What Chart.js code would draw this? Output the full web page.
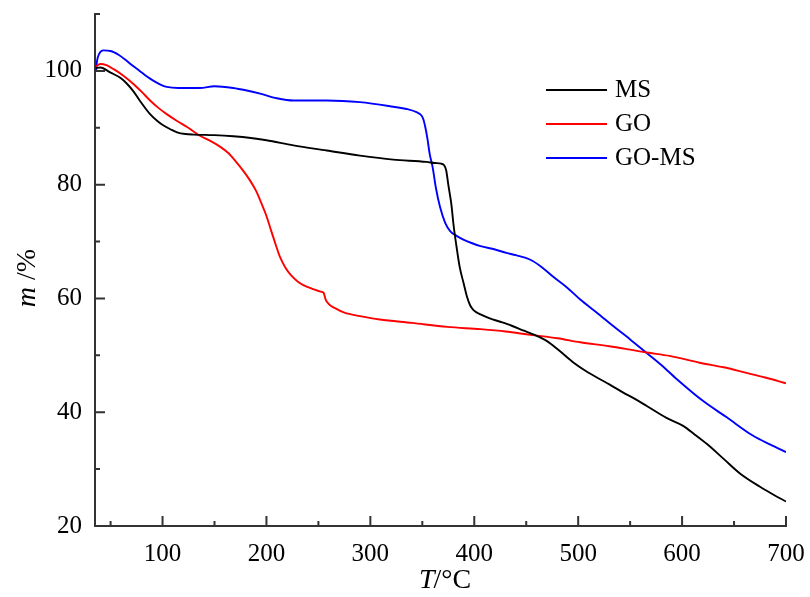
<!DOCTYPE html>
<html>
<head>
<meta charset="utf-8">
<script src="https://cdn.jsdelivr.net/npm/chart.js@4.4.0/dist/chart.umd.min.js"></script>
<style>
  body { margin: 0; background: #fff; }
  #wrap { width: 810px; height: 597px; }
</style>
</head>
<body>
<div id="wrap"><canvas id="c1" width="810" height="597"></canvas></div>
<script>
// TGA curves
const msT = [36, 40, 50, 60, 66, 72, 78, 88, 95, 101, 108, 114, 122, 130, 150, 168, 185, 200, 226, 258, 290, 322, 354, 362, 368, 371, 373, 375, 378, 380, 383, 386, 390, 393, 396, 399, 406, 415, 425, 436, 447, 458, 470, 482, 495, 507, 518, 530, 543, 555, 566, 585, 601, 612, 624, 640, 656, 675, 688, 700];
const msMass = [100.5, 100.6, 99.7, 98.7, 97.7, 96.4, 94.8, 92.4, 91.2, 90.4, 89.7, 89.2, 88.9, 88.8, 88.7, 88.5, 88.2, 87.8, 86.9, 86.0, 85.1, 84.4, 84.0, 83.8, 83.7, 83.4, 82.5, 80.0, 76.5, 73.0, 69.0, 65.5, 62.5, 60.3, 58.8, 58.0, 57.2, 56.5, 55.9, 55.2, 54.4, 53.6, 52.5, 50.8, 48.8, 47.3, 46.1, 44.9, 43.5, 42.3, 41.1, 39.0, 37.6, 36.1, 34.4, 31.8, 29.2, 26.9, 25.5, 24.3];

const goT = [36, 40, 46, 53, 62, 72, 80, 88, 96, 104, 114, 124, 136, 146, 156, 163, 170, 177, 184, 190, 195, 200, 204, 209, 213, 218, 224, 230, 236, 244, 252, 255, 257, 260, 266, 275, 290, 309, 340, 374, 406, 430, 454, 480, 502, 530, 550, 566, 588, 617, 640, 660, 680, 700];
const goMass = [100.8, 101.2, 101.0, 100.3, 99.2, 97.7, 96.3, 94.8, 93.5, 92.4, 91.2, 90.1, 88.6, 87.7, 86.6, 85.6, 84.2, 82.6, 80.8, 78.9, 76.8, 74.5, 72.2, 69.4, 67.3, 65.5, 64.0, 63.0, 62.3, 61.7, 61.2, 61.0, 59.8, 59.0, 58.3, 57.5, 56.9, 56.3, 55.7, 55.0, 54.6, 54.2, 53.6, 53.0, 52.3, 51.6, 51.0, 50.5, 49.9, 48.7, 47.9, 47.0, 46.1, 45.1];

const gomsT = [36, 37, 39, 43, 50, 58, 66, 72, 78, 85, 91, 98, 104, 115, 136, 150, 168, 180, 194, 210, 226, 258, 290, 322, 335, 345, 349, 351, 353, 355, 357, 360, 363, 367, 372, 377, 383, 390, 398, 406, 420, 431, 440, 454, 465, 476, 490, 502, 518, 534, 550, 566, 580, 595, 620, 643, 668, 685, 700];
const gomsMass = [100.0, 101.8, 103.0, 103.6, 103.5, 102.8, 101.7, 100.8, 100.0, 99.0, 98.3, 97.6, 97.2, 97.0, 97.0, 97.3, 97.0, 96.6, 96.0, 95.2, 94.8, 94.8, 94.5, 93.7, 93.3, 92.7, 92.2, 91.5, 90.0, 88.0, 85.5, 83.0, 79.5, 76.1, 73.3, 71.8, 71.0, 70.3, 69.7, 69.2, 68.6, 68.0, 67.6, 66.8, 65.5, 63.8, 61.8, 59.8, 57.5, 55.1, 52.8, 50.4, 48.3, 45.8, 42.0, 39.1, 35.9, 34.3, 33.0];

const seriesNames = ['MS', 'GO', 'GO-MS'];
const seriesColors = ['#000000', '#ff0000', '#0000ff'];

const xMajor = [100, 200, 300, 400, 500, 600, 700];
const xMinor = [50, 150, 250, 350, 450, 550, 650];
const yMajor = [20, 40, 60, 80, 100];
const yMinor = [30, 50, 70, 90, 110];

const FONT = "'Liberation Serif', 'Times New Roman', serif";

function pairs(xs, ys) {
    return xs.map((x, i) => ({ x: x, y: ys[i] }));
}

function noPad(s) {
    s.paddingLeft = 0; s.paddingRight = 0; s.paddingTop = 0; s.paddingBottom = 0;
}

// ticks drawn inside the plot, major and minor
const innerTicks = {
    id: 'innerTicks',
    afterDraw(chart) {
        const ctx = chart.ctx;
        const a = chart.chartArea;
        const xs = chart.scales.x, ys = chart.scales.y;
        ctx.save();
        ctx.strokeStyle = '#333';
        ctx.lineWidth = 2;
        ctx.beginPath();
        xMajor.forEach(v => { const p = xs.getPixelForValue(v); ctx.moveTo(p, a.bottom); ctx.lineTo(p, a.bottom - 10); });
        xMinor.forEach(v => { const p = xs.getPixelForValue(v); ctx.moveTo(p, a.bottom); ctx.lineTo(p, a.bottom - 5); });
        yMajor.forEach(v => { const p = ys.getPixelForValue(v); ctx.moveTo(a.left, p); ctx.lineTo(a.left + 10, p); });
        yMinor.forEach(v => { const p = ys.getPixelForValue(v); ctx.moveTo(a.left, p); ctx.lineTo(a.left + 5, p); });
        ctx.stroke();

        // axis titles with italic symbols
        ctx.fillStyle = '#000';
        ctx.textBaseline = 'middle';
        const it = 'italic 28px ' + FONT, rm = '28px ' + FONT;
        // x title
        ctx.font = it; const wT = ctx.measureText('T').width;
        ctx.font = rm; const wR = ctx.measureText('/°C').width;
        let x0 = (a.left + a.right) / 2 + 5 - (wT + wR) / 2;
        ctx.font = it; ctx.fillText('T', x0, 581);
        ctx.font = rm; ctx.fillText('/°C', x0 + wT - 1, 581);
        // y title
        ctx.save();
        ctx.translate(28, (a.top + a.bottom) / 2 + 8);
        ctx.rotate(-Math.PI / 2);
        ctx.font = it; const wm = ctx.measureText('m ').width;
        ctx.font = rm; const wp = ctx.measureText('/%').width;
        let y0 = -(wm + wp) / 2;
        ctx.font = it; ctx.fillText('m ', y0, 0);
        ctx.font = rm; ctx.fillText('/%', y0 + wm, 0);
        ctx.restore();

        // legend
        ctx.font = '25px ' + FONT;
        chart.data.datasets.forEach((ds, i) => {
            const ly = a.top + 76 + i * 34;
            const lx = a.right - 240;
            ctx.strokeStyle = ds.borderColor;
            ctx.lineWidth = 2;
            ctx.beginPath(); ctx.moveTo(lx, ly); ctx.lineTo(lx + 61, ly); ctx.stroke();
            ctx.fillText(ds.label, lx + 69, ly);
        });
        ctx.restore();
    }
};

const ctx = document.getElementById('c1').getContext('2d');
const chart = new Chart(ctx, {
    type: 'line',
    data: {
        datasets: [
            { label: seriesNames[0], data: pairs(msT, msMass), borderColor: seriesColors[0] },
            { label: seriesNames[1], data: pairs(goT, goMass), borderColor: seriesColors[1] },
            { label: seriesNames[2], data: pairs(gomsT, gomsMass), borderColor: seriesColors[2] }
        ]
    },
    options: {
        responsive: false,
        animation: false,
        layout: { padding: { top: 14, right: 24, left: 0, bottom: 0 } },
        elements: {
            point: { radius: 0 },
            line: { borderWidth: 1.9, cubicInterpolationMode: 'monotone', fill: false }
        },
        plugins: { legend: { display: false }, tooltip: { enabled: false } },
        scales: {
            x: {
                type: 'linear',
                min: 35,
                max: 700,
                afterBuildTicks: s => { s.ticks = xMajor.map(v => ({ value: v })); },
                afterFit: s => { s.height = 71; noPad(s); },
                grid: { drawOnChartArea: false, drawTicks: false },
                border: { color: '#333', width: 2 },
                ticks: { padding: 13, color: '#000', font: { family: FONT, size: 25 }, maxRotation: 0 }
            },
            y: {
                min: 20,
                max: 110,
                afterBuildTicks: s => { s.ticks = yMajor.map(v => ({ value: v })); },
                afterFit: s => { s.width = 95; noPad(s); },
                grid: { drawOnChartArea: false, drawTicks: false },
                border: { color: '#333', width: 2 },
                ticks: { padding: 13, color: '#000', font: { family: FONT, size: 25 } }
            }
        }
    },
    plugins: [innerTicks]
});
</script>
</body>
</html>
